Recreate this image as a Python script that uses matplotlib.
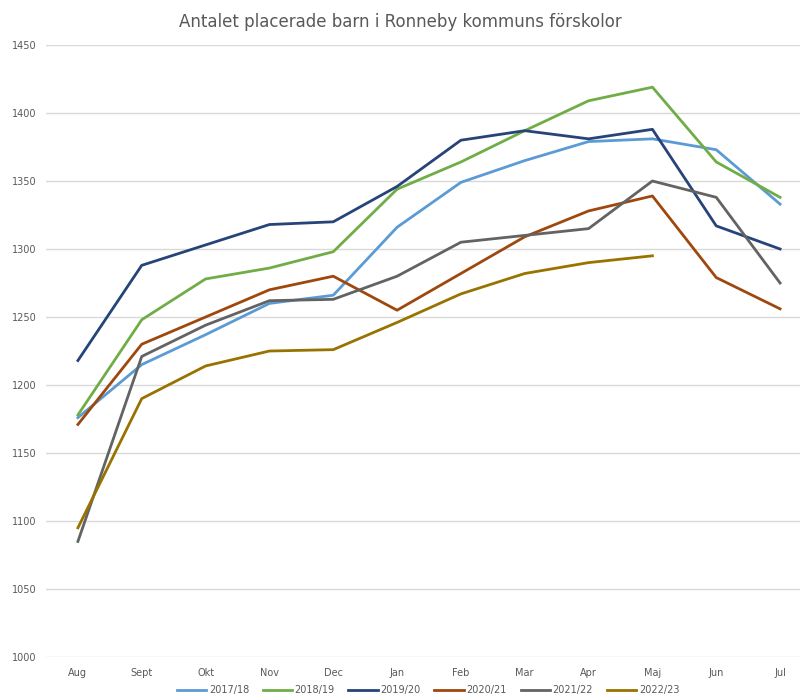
import matplotlib
matplotlib.use("Agg")
import matplotlib.pyplot as plt

months = ['Aug', 'Sept', 'Okt', 'Nov', 'Dec', 'Jan', 'Feb', 'Mar', 'Apr', 'Maj', 'Jun', 'Jul']

y2017 = [1176, 1215, 1237, 1260, 1266, 1316, 1349, 1365, 1379, 1381, 1373, 1333]
y2018 = [1178, 1248, 1278, 1286, 1298, 1344, 1364, 1387, 1409, 1419, 1364, 1338]
y2019 = [1218, 1288, 1303, 1318, 1320, 1346, 1380, 1387, 1381, 1388, 1317, 1300]
y2020 = [1171, 1230, 1250, 1270, 1280, 1255, 1282, 1309, 1328, 1339, 1279, 1256]
y2021 = [1085, 1221, 1244, 1262, 1263, 1280, 1305, 1310, 1315, 1350, 1338, 1275]
y2022 = [1095, 1190, 1214, 1225, 1226, 1246, 1267, 1282, 1290, 1295]

series = [('2017/18', y2017, '#5B9BD5'),
          ('2018/19', y2018, '#70AD47'),
          ('2019/20', y2019, '#264478'),
          ('2020/21', y2020, '#9E480E'),
          ('2021/22', y2021, '#636363'),
          ('2022/23', y2022, '#997300')]

fig = plt.figure(figsize=(8, 7), dpi=100)
ax = fig.add_axes([0.0575, 0.0614, 0.9575, 0.8743])

for name, vals, col in series:
    ax.plot(range(len(vals)), vals, color=col, lw=2.0, label=name)

ax.set_xlim(-0.5, 11.5)
ax.set_ylim(1000, 1450)
ax.set_yticks(range(1000, 1451, 50))
ax.set_xticks(range(len(months)))
ax.set_xticklabels(months)
ax.grid(axis='y', color='#d9d9d9', lw=1)
ax.set_axisbelow(True)
for s in ax.spines.values():
    s.set_visible(False)
ax.tick_params(length=0, labelsize=7, colors='#595959', pad=8)
ax.tick_params(axis='y', pad=7)

fig.suptitle('Antalet placerade barn i Ronneby kommuns förskolor',
             x=0.5, y=0.982, fontsize=12, color='#595959')

fig.legend(loc='lower center', bbox_to_anchor=(0.535, -0.006), ncol=6,
           frameon=False, fontsize=7, handlelength=3, handletextpad=0.3,
           columnspacing=1.4, labelcolor='#595959')

fig.savefig('out.png', dpi=100)
